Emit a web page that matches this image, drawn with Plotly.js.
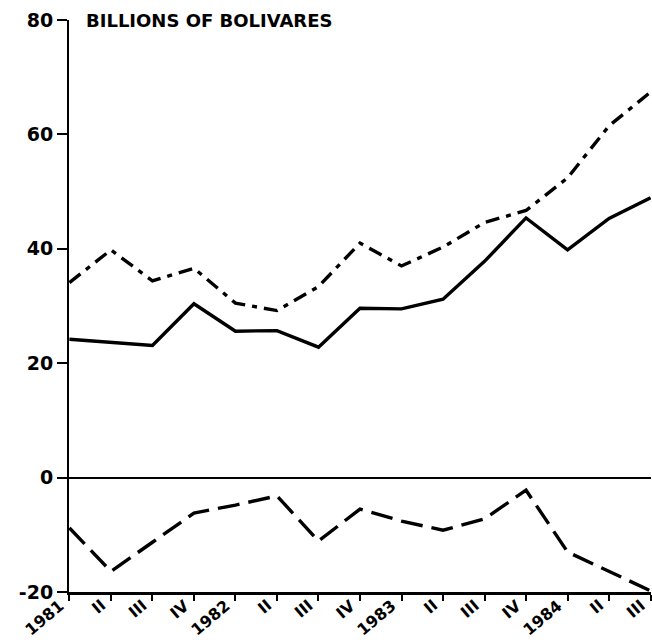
<!DOCTYPE html>
<html>
<head>
<meta charset="utf-8">
<script src="https://cdn.plot.ly/plotly-3.0.1.min.js"></script>
<style>html,body{margin:0;padding:0;background:#fff;}#chart{width:652px;height:644px;}</style>
</head>
<body>
<div id="chart"></div>
<script>
var quarters = ["1981","II","III","IV","1982","II","III","IV","1983","II","III","IV","1984","II","III"];
var solidSeries = [24.2, 23.6, 23.1, 30.4, 25.6, 25.7, 22.8, 29.6, 29.5, 31.2, 37.8, 45.4, 39.8, 45.3, 48.9];
var dashDotSeries = [34.1, 39.8, 34.4, 36.6, 30.5, 29.2, 33.4, 41.0, 37.0, 40.3, 44.6, 46.7, 52.4, 61.5, 67.4];
var dashedSeries = [-8.8, -16.4, -11.3, -6.2, -4.8, -3.2, -11.1, -5.5, -7.6, -9.2, -7.2, -2.2, -13.0, -16.4, -19.8];
var yTickVals = [-20, 0, 20, 40, 60, 80];
var yTickText = ["-20", "0", "20", "40", "60", "80"];

var idx = quarters.map(function(_, i){ return i; });
var FONT = 'DejaVu Sans, Verdana, sans-serif';

var traces = [
  {x: idx, y: solidSeries, mode: 'lines', line: {color: '#000', width: 3.4}, hoverinfo: 'skip'},
  {x: idx, y: dashDotSeries, mode: 'lines', line: {color: '#000', width: 3.4, dash: '14px,7px,5px,7px'}, hoverinfo: 'skip'},
  {x: idx, y: dashedSeries, mode: 'lines', line: {color: '#000', width: 3.4, dash: '22px,9px'}, hoverinfo: 'skip'}
];

var annotations = [{
  xref: 'paper', yref: 'paper', x: 0.026, y: 1.0, xanchor: 'left', yanchor: 'middle',
  text: 'BILLIONS OF BOLIVARES', showarrow: false,
  font: {size: 18, weight: 'bold', color: '#000', family: FONT}
}];
quarters.forEach(function(q, i){
  annotations.push({
    xref: 'x', yref: 'paper', x: i, y: -0.004, xanchor: 'right', yanchor: 'top',
    xshift: 0, text: q, textangle: -40, showarrow: false, borderpad: 0,
    font: {size: 16, weight: 'bold', color: '#000', family: FONT}
  });
});

var layout = {
  width: 652, height: 644,
  margin: {l: 69, r: 1, t: 20, b: 52},
  paper_bgcolor: '#fff', plot_bgcolor: '#fff',
  showlegend: false,
  font: {family: FONT, color: '#000'},
  xaxis: {
    range: [-0.01, 14.01], tickmode: 'array', tickvals: idx, ticktext: quarters,
    showticklabels: false, showgrid: false, zeroline: false,
    showline: true, linecolor: '#000', linewidth: 2.5,
    ticks: 'outside', ticklen: 6, tickwidth: 2, tickcolor: '#000'
  },
  yaxis: {
    range: [-20, 80], tickmode: 'array', tickvals: yTickVals, ticktext: yTickText,
    showgrid: false, zeroline: true, zerolinecolor: '#000', zerolinewidth: 2,
    showline: true, linecolor: '#000', linewidth: 2,
    ticks: 'outside', ticklen: 10, tickwidth: 2, tickcolor: '#000',
    tickfont: {size: 19, weight: 'bold', color: '#000', family: FONT}
  },
  annotations: annotations
};

Plotly.newPlot('chart', traces, layout, {staticPlot: true, displayModeBar: false});
</script>
</body>
</html>
